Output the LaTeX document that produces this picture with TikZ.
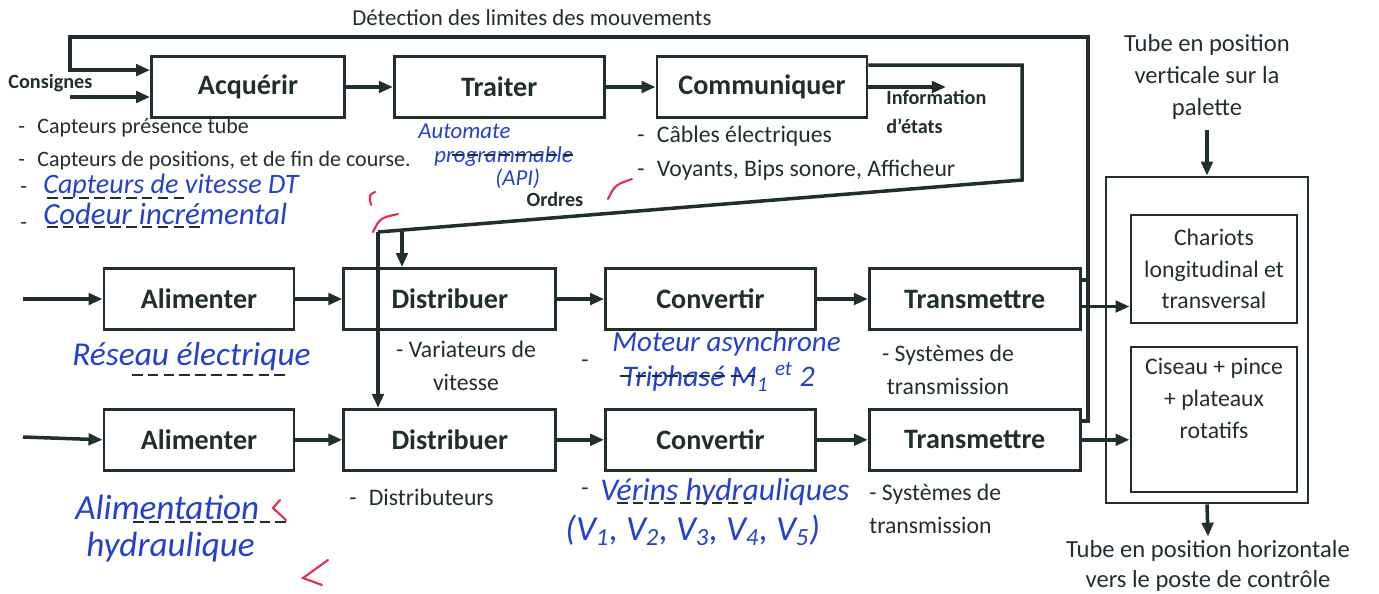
\documentclass[tikz,border=0pt]{standalone}
\usepackage{fontspec}
\setmainfont{Carlito}
\usepackage{tikz}
\usetikzlibrary{arrows.meta,positioning,calc}
\definecolor{encre}{RGB}{32,48,40}
\definecolor{stylo}{RGB}{35,65,205}
\definecolor{correction}{RGB}{225,45,80}

\begin{document}
\begin{tikzpicture}
	[x=0.02cm, y=-0.02cm, inner sep=0pt, encre, font=\fontsize{13.5}{18.5}\selectfont,
	fonction/.style	= {draw, line width=1.6pt, minimum height=1.22cm, font=\bfseries\fontsize{16}{19}\selectfont},
	cadre/.style	= {draw, line width=1.6pt, align=center, font=\fontsize{13.5}{18}\selectfont},
	lien/.style		= {draw, line width=2pt},
	fleche/.style	= {lien, -{Triangle[length=8pt,width=6.5pt]}},
	gras/.style		= {font=\bfseries\fontsize{11.5}{17}\selectfont},
	liste/.style	= {anchor=west, font=\fontsize{12.5}{14}\selectfont},
	manuscrit/.style = {stylo, anchor=west, font=\itshape\fontsize{#1}{#1}\selectfont},
	manuscrit/.default = 16,
	pointilles/.style = {line width=1.4pt, dash pattern=on 6pt off 3pt},
	coche/.style	= {draw=correction, line width=1.2pt, line cap=round}]

	\useasboundingbox (0,0) rectangle (1379,593);

	% chaine d'information
	\node [fonction, minimum width=3.86cm] at (248,87)	(acq)	{Acquérir};
	\node [fonction, minimum width=4.2cm] [right = 0.94cm of acq]	(trait)	{Traiter};
	\node [fonction, minimum width=4.2cm] [right = 1cm of trait]	(comm)	{Communiquer};

	% chaines d'energie
	\node [fonction, minimum width=3.8cm] at (199,299)	(alim1)	{Alimenter};
	\node [fonction, minimum width=4.24cm] [right = 0.94cm of alim1]	(dist1)	{Distribuer};
	\node [fonction, minimum width=4.2cm] [right = 0.94cm of dist1]	(conv1)	{Convertir};
	\node [fonction, minimum width=4.22cm] [right = 1.02cm of conv1]	(trans1) {Transmettre};

	\node [fonction, minimum width=3.8cm] [below = 1.54cm of alim1]	(alim2)	{Alimenter};
	\node [fonction, minimum width=4.24cm] [below = 1.54cm of dist1]	(dist2)	{Distribuer};
	\node [fonction, minimum width=4.2cm] [below = 1.54cm of conv1]	(conv2)	{Convertir};
	\node [fonction, minimum width=4.22cm] [below = 1.54cm of trans1] (trans2) {Transmettre};

	% effecteurs
	\node [draw, line width=1.6pt, minimum width=4.04cm, minimum height=6.52cm] at (1207,340) (poste) {};
	\node [cadre, minimum width=3.32cm, minimum height=2.16cm] at (1214,269) (chariots) {Chariots\\longitudinal et\\transversal};
	\node [cadre, minimum width=3.32cm, minimum height=2.9cm] at (1214,419.5) (ciseau) {};
	\node [align=center, font=\fontsize{13.5}{18}\selectfont] at ($(ciseau.center)+(0,-21)$) (ciseautxt) {Ciseau + pince\\+ plateaux\\rotatifs};

	\node [align=center, font=\fontsize{14}{18}\selectfont] at (1207,77)	(tubeV)	{Tube en position\\verticale sur la\\palette};
	\node [align=center, font=\fontsize{14}{17}\selectfont] at (1208,566)	(tubeH)	{Tube en position horizontale\\vers le poste de contrôle};
	\draw [fleche] ([yshift=-6pt]tubeV.south) -- (poste.north);
	\draw [fleche] (poste.south) -- ([yshift=2pt]tubeH.north);

	% retour des informations
	\coordinate (retourH) at (1088,37);
	\coordinate (retourG) at (70,37);
	\coordinate (sortie1) at ([yshift=-0.26cm]trans1.north east);
	\draw [fleche] ([yshift=-0.26cm]trans2.north east) -| (retourH) -- (retourG) |- ([yshift=-0.3cm]acq.north west);
	\draw [lien] (sortie1) -- (sortie1 -| retourH);
	\node [font=\fontsize{13}{15}\selectfont] at (532,18) (detection) {Détection des limites des mouvements};

	\coordinate (consigne) at (70,97);
	\draw [fleche] (consigne) -- (consigne -| acq.west);
	\node [gras, anchor=west] at (8,83) (consignes) {Consignes};

	\draw [fleche] (acq.east) -- (trait.west);
	\draw [fleche] (trait.east) -- (comm.west);
	\coordinate (etats) at (946,87);
	\draw [fleche] (comm.east) -- (etats);
	\node [gras, anchor=west, align=left] at (886,112) (information) {Information\\d'états};

	% ordres
	\coordinate (sortieC) at ([yshift=-0.2cm]comm.north east);
	\coordinate (ordresD) at (1022,180);
	\coordinate (ordresG) at (378,232);
	\coordinate (ordresB) at (402,230);
	\draw [lien] (sortieC) -| (ordresD) -- (ordresG);
	\draw [fleche] (ordresG) -- (ordresG |- dist2.north);
	\draw [fleche] (ordresB) -- (ordresB |- dist1.north);
	\node [gras] at (555,199) (ordres) {Ordres};

	\coordinate (entree1) at (23,299);
	\coordinate (entree2) at (23,437);
	\draw [fleche] (entree1) -- (alim1.west);
	\draw [fleche] (entree2) -- (alim2.west);
	\foreach \a/\b in {alim1/dist1, dist1/conv1, conv1/trans1, alim2/dist2, dist2/conv2, conv2/trans2}
		\draw [fleche] (\a.east) -- (\b.west);

	\coordinate (sortie3) at ([yshift=-0.15cm]trans1.east);
	\draw [fleche] (sortie3) -- (sortie3 -| chariots.west);
	\draw [fleche] (trans2.east) -- (trans2.east -| ciseau.west);

	% textes imprimes
	\node [liste] at (18,128) (capt1) {-\hspace{7pt}Capteurs présence tube};
	\node [liste] at (18,161) (capt2) {-\hspace{7pt}Capteurs de positions, et de fin de course.};
	\node [liste] at (20,190) (tiret1) {-};
	\node [liste] at (20,226) (tiret2) {-};
	\node [anchor=west] at (637,136) (cables) {-\hspace{7pt}Câbles électriques};
	\node [anchor=west] at (637,170) (voyants) {-\hspace{7pt}Voyants, Bips sonore, Afficheur};
	\node [align=center] at (466,366) (variateurs) {- Variateurs de\\vitesse};
	\node [align=center] at (948,370) (systemes1) {- Systèmes de\\transmission};
	\node [anchor=west] at (349,497) (distributeurs) {-\hspace{7pt}Distributeurs};
	\node [anchor=west, align=left] at (869,509) (systemes2) {- Systèmes de\\transmission};
	\node [anchor=west] at (581,364) (tiret3) {-};
	\node [anchor=west] at (581,492) (tiret4) {-};

	% reponses manuscrites
	\node [manuscrit] at (43,186) (vitesse) {Capteurs de vitesse DT};
	\node [manuscrit=17.5] at (43,214) (codeur) {Codeur incrémental};
	\node [manuscrit=13] at (418,131) (automate) {Automate};
	\node [manuscrit=13] at (434,157) (programmable) {programmable};
	\node [manuscrit=13] at (495,179) (api) {(API)};
	\node [manuscrit=19] at (72,357) (reseau) {Réseau électrique};
	\node [manuscrit=16.5] at (612,344) (moteur) {Moteur asynchrone};
	\node [manuscrit=17] at (622,377) (triphase) {Triphasé M\textsubscript{1} \textsuperscript{et} 2};
	\node [manuscrit=18] at (600,492) (verins) {Vérins hydrauliques};
	\node [manuscrit=20] at (565,530) (vindices) {(V\textsubscript{1}, V\textsubscript{2}, V\textsubscript{3}, V\textsubscript{4}, V\textsubscript{5})};
	\node [manuscrit=20] at (75,507) (alimentation) {Alimentation};
	\node [manuscrit=20] at (86,547) (hydraulique) {hydraulique};

	\draw [pointilles] (47,198) -- (187,198);
	\draw [pointilles] (47,227) -- (200,227);
	\draw [pointilles] (452,155) -- (575,155);
	\draw [pointilles] (132,375) -- (285,375);
	\draw [pointilles] (620,376) -- (755,376);
	\draw [pointilles] (133,522) -- (287,522);
	\draw [pointilles] (617,503) -- (752,503);

	% coches de correction
	\draw [coche] (375,192) .. controls (369,195) .. (371,205);
	\draw [coche] (373,232) .. controls (380,218) .. (398,214);
	\draw [coche] (608,199) .. controls (615,185) .. (632,179);
	\draw [coche] (280,500) -- (273,508) -- (286,520);
	\draw [coche] (328,560) -- (303,578) -- (322,585);
\end{tikzpicture}
\end{document}
